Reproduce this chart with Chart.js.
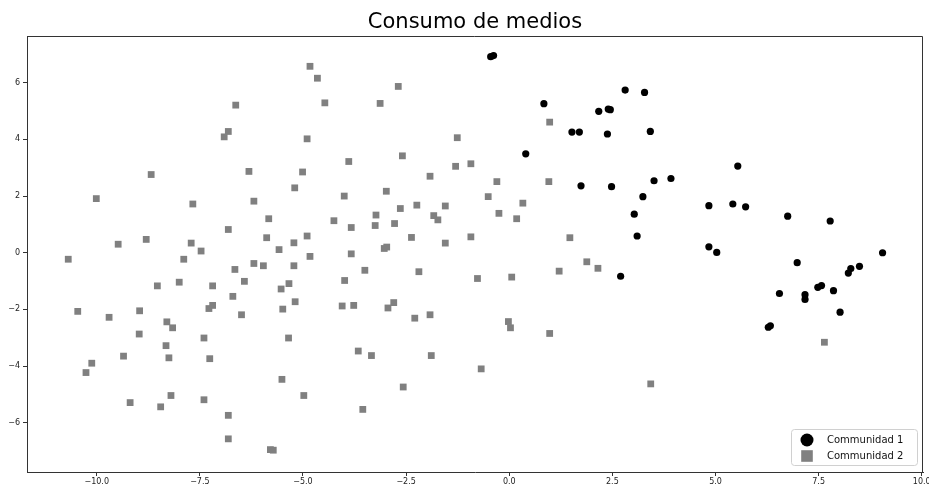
<!DOCTYPE html>
<html>
<head>
<meta charset="utf-8">
<title>Consumo de medios</title>
<script src="https://cdn.jsdelivr.net/npm/chart.js@4.4.1/dist/chart.umd.min.js"></script>
<style>
  html, body { margin: 0; padding: 0; background: #ffffff; }
  canvas { display: block; }
</style>
</head>
<body>
<canvas id="chart" width="929" height="487"></canvas>
<script>
// Community 1: embedding coordinates
const comm1X = [-0.45, -0.38, 0.84, 2.81, 3.28, 2.17, 2.40, 2.45, 1.52, 1.70, 2.38, 3.42, 0.40, 5.54,
  1.74, 2.48, 3.51, 3.92, 3.24, 3.03, 3.10, 4.84, 5.42, 5.73, 4.84, 5.03, 6.75, 7.78, 9.05, 2.70,
  6.98, 6.55, 7.17, 7.17, 7.48, 7.57, 7.86, 8.22, 8.28, 8.49, 8.02, 6.28, 6.33];
const comm1Y = [6.92, 6.96, 5.26, 5.74, 5.66, 4.99, 5.07, 5.05, 4.26, 4.26, 4.19, 4.28, 3.49, 3.06,
  2.36, 2.33, 2.54, 2.62, 1.98, 1.36, 0.59, 1.66, 1.72, 1.62, 0.21, 0.01, 1.29, 1.12, 0.00, -0.83,
  -0.35, -1.44, -1.48, -1.65, -1.22, -1.16, -1.34, -0.72, -0.56, -0.48, -2.10, -2.63, -2.58];

// Community 2: embedding coordinates
const comm2X = [-6.63, -6.81, -6.91, -8.68, -6.31, -10.01, -7.67, -6.19, -5.83, -6.81, -5.88, -9.48,
  -8.80, -7.71, -7.47, -10.69, -7.89, -6.19, -5.96, -6.65, -8.53, -8.00, -7.19, -6.42, -6.70, -10.46,
  -9.70, -8.96, -7.28, -7.19, -6.49, -8.30, -8.16, -8.97, -7.40, -8.32, -9.35, -8.25, -7.26, -10.12,
  -10.26, -8.20, -9.19, -8.45, -7.40, -6.81, -6.81, -5.79, -5.72,
  -4.83, -4.65, -2.69, -4.47, -3.13, -4.90, -1.26, -3.89, -2.59, -5.01, -1.30, -0.93, -1.92, -5.20,
  -4.00, -2.98, -0.30, -0.51, -0.25, -2.64, -2.24, -1.55, -3.23, -1.83, -1.73, -4.25, -3.83, -3.25,
  -2.78, -4.90, -5.22, -5.58, -2.37, -0.93, -1.55, -3.03, -2.97, -4.83, -3.83,
  -5.22, -3.50, -2.19, -0.77, 0.06, -5.34, -5.53, -3.99, -5.19, -5.49, -4.05, -3.77, -2.94, -2.80,
  -2.29, -1.92, -0.02, 0.03, -5.35, -3.66, -3.34, -1.89, -0.68, -5.51, -2.57, -4.98, -3.55,
  1.21, 1.88, 2.15, 0.98, 3.43, 0.98, 0.96, 0.33, 0.18, 1.47, 7.64];
const comm2Y = [5.21, 4.28, 4.09, 2.76, 2.87, 1.91, 1.72, 1.82, 1.20, 0.82, 0.53, 0.30,
  0.47, 0.34, 0.06, -0.23, -0.23, -0.38, -0.46, -0.59, -1.17, -1.04, -1.17, -1.01, -1.54, -2.07,
  -2.28, -2.05, -1.97, -1.86, -2.19, -2.44, -2.65, -2.87, -3.01, -3.28, -3.65, -3.71, -3.74, -3.90,
  -4.23, -5.04, -5.29, -5.44, -5.19, -5.74, -6.57, -6.95, -6.97,
  6.58, 6.16, 5.87, 5.29, 5.27, 4.02, 4.06, 3.22, 3.42, 2.85, 3.05, 3.14, 2.70, 2.29,
  2.00, 2.17, 2.51, 1.98, 1.39, 1.56, 1.68, 1.65, 1.33, 1.31, 1.16, 1.13, 0.89, 0.96,
  1.03, 0.59, 0.35, 0.11, 0.54, 0.56, 0.34, 0.15, 0.20, -0.13, -0.04,
  -0.46, -0.62, -0.67, -0.91, -0.86, -1.09, -1.28, -0.98, -1.73, -1.99, -1.88, -1.86, -1.95, -1.76,
  -2.31, -2.19, -2.43, -2.65, -3.01, -3.47, -3.63, -3.63, -4.10, -4.47, -4.74, -5.04, -5.53,
  -0.65, -0.32, -0.55, -2.85, -4.63, 4.61, 2.51, 1.75, 1.20, 0.53, -3.16];

const seriesLabels = ['Communidad 1', 'Communidad 2'];
const xTicks = [-10, -7.5, -5, -2.5, 0, 2.5, 5, 7.5, 10];
const yTicks = [-6, -4, -2, 0, 2, 4, 6];

const toPoints = (xs, ys) => xs.map((x, i) => ({ x: x, y: ys[i] }));
const withMinus = s => s.replace('-', '\u2212');

// top and right spines to close the frame
const framePlugin = {
  id: 'frame',
  afterDatasetsDraw(chart) {
    const { ctx, chartArea: a } = chart;
    ctx.save();
    ctx.strokeStyle = '#333333';
    ctx.lineWidth = 1;
    ctx.beginPath();
    ctx.moveTo(a.left, a.top + 0.5);
    ctx.lineTo(a.right - 0.5, a.top + 0.5);
    ctx.lineTo(a.right - 0.5, a.bottom);
    ctx.stroke();
    ctx.restore();
  }
};

// boxed legend in the lower right corner of the plot
const cornerLegend = {
  id: 'cornerLegend',
  afterDraw(chart) {
    const { ctx, chartArea: a } = chart;
    const w = 126, h = 36;
    const left = a.right - 6 - w, top = a.bottom - 7 - h;
    ctx.save();
    ctx.fillStyle = 'rgba(255,255,255,0.8)';
    ctx.strokeStyle = '#d0d0d0';
    ctx.lineWidth = 1;
    ctx.beginPath();
    ctx.roundRect(left + 0.5, top + 0.5, w, h, 3);
    ctx.fill();
    ctx.stroke();
    ctx.font = '10px "DejaVu Sans"';
    ctx.textBaseline = 'middle';
    ctx.textAlign = 'left';
    chart.data.datasets.forEach((ds, i) => {
      const cy = top + 11 + i * 16;
      const cx = left + 16;
      ctx.fillStyle = ds.backgroundColor;
      if (ds.pointStyle === 'rect') {
        ctx.fillRect(cx - 5.8, cy - 5.8, 11.6, 11.6);
      } else {
        ctx.beginPath();
        ctx.arc(cx, cy, 6.5, 0, Math.PI * 2);
        ctx.fill();
      }
      ctx.fillStyle = '#111111';
      ctx.fillText(ds.label, left + 36, cy + 0.5);
    });
    ctx.restore();
  }
};

const tickFont = { family: 'DejaVu Sans', size: 8 };

new Chart(document.getElementById('chart'), {
  type: 'scatter',
  data: {
    datasets: [
      {
        label: seriesLabels[0],
        data: toPoints(comm1X, comm1Y),
        pointStyle: 'circle',
        pointRadius: 3.6,
        backgroundColor: '#000000',
        borderColor: '#000000',
        borderWidth: 0,
        order: 2
      },
      {
        label: seriesLabels[1],
        data: toPoints(comm2X, comm2Y),
        pointStyle: 'rect',
        pointRadius: 4.8,
        backgroundColor: '#808080',
        borderColor: '#808080',
        borderWidth: 0,
        order: 1
      }
    ]
  },
  options: {
    responsive: false,
    animation: false,
    devicePixelRatio: 1,
    layout: { padding: { left: 0, right: 6, top: 0, bottom: 0 } },
    plugins: {
      legend: { display: false },
      tooltip: { enabled: false },
      title: {
        display: true,
        fullSize: false,
        text: 'Consumo de medios',
        color: '#000000',
        font: { family: 'DejaVu Sans', size: 21, weight: 'normal', lineHeight: 1.2 },
        padding: { top: 9.6, bottom: 1.2 }
      }
    },
    scales: {
      x: {
        type: 'linear',
        min: -11.69,
        max: 10.03,
        afterBuildTicks: s => { s.ticks = xTicks.map(v => ({ value: v })); },
        afterFit: s => { s.height = 15; s.paddingLeft = 0; s.paddingRight = 0; },
        ticks: {
          color: '#222222',
          font: tickFont,
          padding: 1,
          maxRotation: 0,
          autoSkip: false,
          callback: v => withMinus(Number(v).toFixed(1))
        },
        grid: { display: true, drawOnChartArea: false, drawTicks: true, tickLength: 4, color: '#333333' },
        border: { display: true, color: '#333333', width: 1 }
      },
      y: {
        type: 'linear',
        min: -7.74,
        max: 7.65,
        afterBuildTicks: s => { s.ticks = yTicks.map(v => ({ value: v })); },
        afterFit: s => { s.width = 27; s.paddingTop = 0; s.paddingBottom = 0; },
        ticks: {
          color: '#222222',
          font: tickFont,
          padding: 3,
          autoSkip: false,
          callback: v => withMinus(String(v))
        },
        grid: { display: true, drawOnChartArea: false, drawTicks: true, tickLength: 4, color: '#333333' },
        border: { display: true, color: '#333333', width: 1 }
      }
    }
  },
  plugins: [framePlugin, cornerLegend]
});
</script>
</body>
</html>
